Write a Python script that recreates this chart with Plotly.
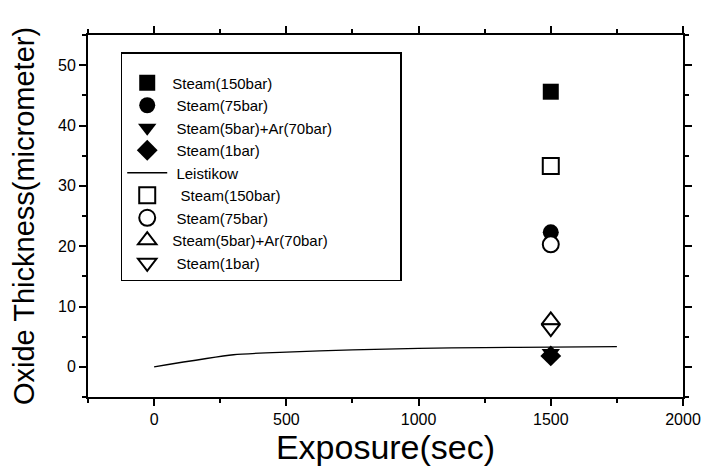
import plotly.graph_objects as go

# ---- data ----
exposure_pts = [1500]
steam150_closed = [45.6]
steam75_closed = [22.3]
steam5ar70_closed = [2.3]
steam1_closed = [1.8]

leistikow_x = [0, 300, 500, 750, 1000, 1250, 1500, 1750]
leistikow_y = [0.0, 2.0, 2.45, 2.8, 3.05, 3.2, 3.25, 3.35]

steam150_open = [33.3]
steam75_open = [20.3]
steam5ar70_open = [7.7]
steam1_open = [6.4]

x_ticks = [0, 500, 1000, 1500, 2000]
y_ticks = [0, 10, 20, 30, 40, 50]

FONT = "Liberation Sans, Arial, sans-serif"
NB = "\u00a0"

fig = go.Figure()

def add_marker(name, y, symbol, filled):
    fig.add_trace(go.Scatter(
        x=exposure_pts, y=y, mode="markers", name=name,
        marker=dict(symbol=symbol, size=16,
                    color="black" if filled else "white",
                    line=dict(color="black", width=0 if filled else 2)),
    ))

add_marker("Steam(150bar)", steam150_closed, "square", True)
add_marker(" Steam(75bar)", steam75_closed, "circle", True)
add_marker(" Steam(5bar)+Ar(70bar)", steam5ar70_closed, "triangle-down", True)
add_marker(" Steam(1bar)", steam1_closed, "diamond", True)

fig.add_trace(go.Scatter(
    x=leistikow_x, y=leistikow_y, mode="lines", name=" Leistikow",
    line=dict(color="black", width=1.3, shape="spline", smoothing=0.6),
))

add_marker("  Steam(150bar)", steam150_open, "square", False)
add_marker(" Steam(75bar)", steam75_open, "circle", False)
add_marker("Steam(5bar)+Ar(70bar)" + NB * 16, steam5ar70_open, "triangle-up", False)
add_marker(" Steam(1bar)", steam1_open, "triangle-down", False)

axis_common = dict(
    showline=True, linecolor="black", linewidth=2, mirror="ticks",
    ticks="outside", ticklen=7, tickwidth=1.5, tickcolor="black",
    showgrid=False, zeroline=False, automargin=False,
    tickfont=dict(family=FONT, size=16, color="black"),
)

fig.update_xaxes(
    range=[-250, 2000], tickvals=x_ticks,
    minor=dict(dtick=250, tick0=0, ticklen=4, ticks="outside", tickcolor="black", tickwidth=1.5),
    title=dict(text="Exposure(sec)", font=dict(family=FONT, size=34, color="black"), standoff=3),
    **axis_common,
)
fig.update_yaxes(
    range=[-5, 55], tickvals=y_ticks,
    minor=dict(dtick=5, tick0=0, ticklen=4, ticks="outside", tickcolor="black", tickwidth=1.5),
    title=dict(text="Oxide Thickness(micrometer)", font=dict(family=FONT, size=29, color="black"), standoff=15),
    **axis_common,
)

fig.update_layout(
    width=705, height=471,
    margin=dict(l=88, r=22, t=35, b=74),
    paper_bgcolor="white", plot_bgcolor="white",
    showlegend=True,
    legend=dict(
        x=0.055, y=0.953, xanchor="left", yanchor="top",
        bgcolor="white", bordercolor="black", borderwidth=1.5,
        font=dict(family=FONT, size=15, color="black"),
        title=dict(text=NB, font=dict(family=FONT, size=10)),
        itemwidth=40, tracegroupgap=0,
    ),
)

fig.write_html(
    "out.html",
    config={"displayModeBar": False},
    post_script="document.body.style.margin='0';document.body.style.padding='0';",
)
